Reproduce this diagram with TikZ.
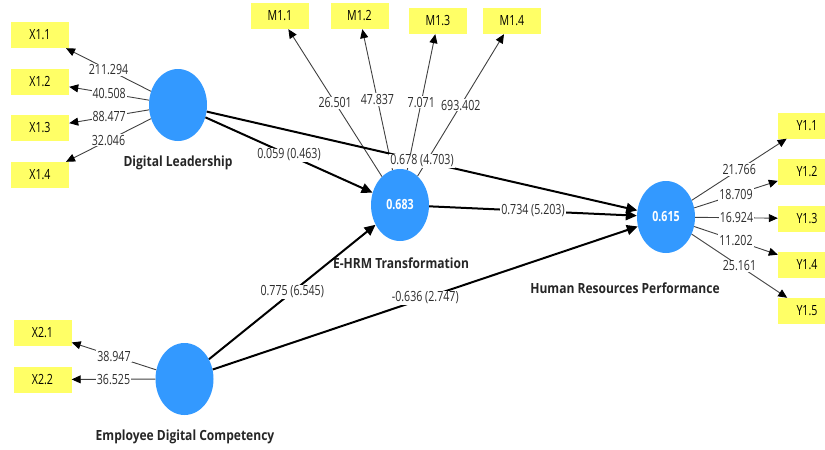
\documentclass[tikz,border=0pt]{standalone}
\usepackage{fontspec}
\setmainfont{Open Sans}
\usepackage{graphicx}
\usetikzlibrary{arrows.meta,shapes.geometric}
\definecolor{boxy}{RGB}{255,255,102}
\definecolor{lvblue}{RGB}{51,153,255}
\definecolor{numgray}{RGB}{45,45,45}
\newcommand\sq[1]{\scalebox{0.76}[1]{#1}}
\newcommand\sqb[1]{\scalebox{0.86}[1]{#1}}
\begin{document}
\begin{tikzpicture}[x=1pt,y=-1pt,
  ind/.style={fill=boxy, minimum width=58pt, minimum height=26pt, inner sep=0pt, font=\fontsize{14}{16}\selectfont},
  lv/.style={ellipse, fill=lvblue, minimum width=58pt, minimum height=72pt, inner sep=0pt, text=white, font=\bfseries\fontsize{14}{16}\selectfont},
  ld/.style={draw=black!75, line width=0.9pt, -{Triangle[length=9pt,width=8pt,color=black]}},
  pth/.style={draw=black, line width=2pt, -{Triangle[length=11pt,width=10pt]}},
  val/.style={fill=white, inner sep=1pt, text=numgray, font=\fontsize{14}{16}\selectfont},
  cname/.style={font=\bfseries\fontsize{14}{16}\selectfont, text=black!85}
]
\useasboundingbox (0,0) rectangle (825,450);
\clip (0,0) rectangle (825,450);

% indicators
\node[ind] (x11) at (40,35) {\sq{X1.1}};
\node[ind] (x12) at (40,82) {\sq{X1.2}};
\node[ind] (x13) at (40,128) {\sq{X1.3}};
\node[ind] (x14) at (40,175) {\sq{X1.4}};
\node[ind] (x21) at (42.5,333) {\sq{X2.1}};
\node[ind] (x22) at (42.5,379.5) {\sq{X2.2}};
\node[ind] (m11) at (280,16) {\sq{M1.1}};
\node[ind] (m12) at (359.5,16) {\sq{M1.2}};
\node[ind] (m13) at (438,21) {\sq{M1.3}};
\node[ind] (m14) at (512,21) {\sq{M1.4}};
\node[ind] (y11) at (807,125.5) {\sq{Y1.1}};
\node[ind] (y12) at (807,171.5) {\sq{Y1.2}};
\node[ind] (y13) at (807,218.5) {\sq{Y1.3}};
\node[ind] (y14) at (807,264.5) {\sq{Y1.4}};
\node[ind] (y15) at (807,311) {\sq{Y1.5}};

% latent variables
\node[lv] (dl) at (178,105) {};
\node[lv] (eth) at (400,205) {\sq{0.683}};
\node[lv] (hrp) at (666,217) {\sq{0.615}};
\node[lv] (edc) at (184.5,379) {};

\node[cname] (dln) at (178,163) {\sqb{Digital Leadership}};
\node[cname] (ethn) at (401,263) {\sqb{E-HRM Transformation}};
\node[cname] (hrpn) at (625,288) {\sqb{Human Resources Performance}};
\node[cname] (edcn) at (185,437) {\sqb{Employee Digital Competency}};

% loadings
\draw[ld] (dl) -- node[val]{\sq{211.294}} (x11);
\draw[ld] (dl) -- node[val]{\sq{40.508}} (x12);
\draw[ld] (dl) -- node[val]{\sq{88.477}} (x13);
\draw[ld] (dl) -- node[val]{\sq{32.046}} (x14);
\draw[ld] (edc) -- node[val]{\sq{38.947}} (x21);
\draw[ld] (edc) -- node[val]{\sq{36.525}} (x22);
\draw[ld] (eth) -- node[val]{\sq{26.501}} (m11);
\draw[ld] (eth) -- node[val]{\sq{47.837}} (m12);
\draw[ld] (eth) -- node[val]{\sq{7.071}} (m13);
\draw[ld] (eth) -- node[val]{\sq{693.402}} (m14);
\draw[ld] (hrp) -- node[val]{\sq{21.766}} (y11);
\draw[ld] (hrp) -- node[val]{\sq{18.709}} (y12);
\draw[ld] (hrp) -- node[val]{\sq{16.924}} (y13);
\draw[ld] (hrp) -- node[val]{\sq{11.202}} (y14);
\draw[ld] (hrp) -- node[val]{\sq{25.161}} (y15);

% structural paths
\draw[pth] (dl) -- node[val]{\sq{0.059 (0.463)}} (eth);
\draw[pth] (dl) -- node[val]{\sq{0.678 (4.703)}} (hrp);
\draw[pth] (eth) -- node[val]{\sq{0.734 (5.203)}} (hrp);
\draw[pth] (edc) -- node[val]{\sq{0.775 (6.545)}} (eth);
\draw[pth] (edc) -- node[val]{\sq{-0.636 (2.747)}} (hrp);
\end{tikzpicture}
\end{document}
